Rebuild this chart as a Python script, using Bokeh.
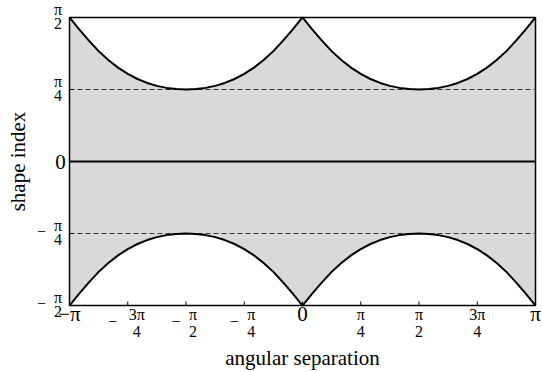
import numpy as np
from bokeh.plotting import figure
from bokeh.models import Range1d, Label
from bokeh.embed import file_html
from bokeh.resources import INLINE

# ---- data ----
x_deg = [-180, -172.5, -165, -157.5, -150, -142.5, -135, -127.5, -120, -112.5, -105, -97.5,
         -90, -82.5, -75, -67.5, -60, -52.5, -45, -37.5, -30, -22.5, -15, -7.5,
         0, 7.5, 15, 22.5, 30, 37.5, 45, 52.5, 60, 67.5, 75, 82.5,
         90, 97.5, 105, 112.5, 120, 127.5, 135, 142.5, 150, 157.5, 165, 172.5, 180]
upper = [1.571, 1.441, 1.318, 1.204, 1.107, 1.024, 0.955, 0.900, 0.857, 0.825, 0.803, 0.790,
         0.785, 0.790, 0.803, 0.825, 0.857, 0.900, 0.955, 1.024, 1.107, 1.204, 1.318, 1.441,
         1.571, 1.441, 1.318, 1.204, 1.107, 1.024, 0.955, 0.900, 0.857, 0.825, 0.803, 0.790,
         0.785, 0.790, 0.803, 0.825, 0.857, 0.900, 0.955, 1.024, 1.107, 1.204, 1.318, 1.441, 1.571]
lower = [-1.571, -1.441, -1.318, -1.204, -1.107, -1.024, -0.955, -0.900, -0.857, -0.825, -0.803, -0.790,
         -0.785, -0.790, -0.803, -0.825, -0.857, -0.900, -0.955, -1.024, -1.107, -1.204, -1.318, -1.441,
         -1.571, -1.441, -1.318, -1.204, -1.107, -1.024, -0.955, -0.900, -0.857, -0.825, -0.803, -0.790,
         -0.785, -0.790, -0.803, -0.825, -0.857, -0.900, -0.955, -1.024, -1.107, -1.204, -1.318, -1.441, -1.571]
dashed_levels = [np.pi / 4, -np.pi / 4]
zero_level = 0.0

x_min, x_max = -np.pi, np.pi
y_min, y_max = -np.pi / 2, np.pi / 2

# tick values and label parts: (sign, numerator, denominator); empty denominator => plain label
x_ticks = [-np.pi, -3 * np.pi / 4, -np.pi / 2, -np.pi / 4, 0, np.pi / 4, np.pi / 2, 3 * np.pi / 4, np.pi]
x_tick_sign = ["", "−", "−", "−", "", "", "", "", ""]
x_tick_num = ["−π", "3π", "π", "π", "0", "π", "π", "3π", "π"]
x_tick_den = ["", "4", "2", "4", "", "4", "2", "4", ""]
y_ticks = [-np.pi / 2, -np.pi / 4, 0, np.pi / 4, np.pi / 2]
y_tick_sign = ["−", "−", "", "", ""]
y_tick_num = ["π", "π", "0", "π", "π"]
y_tick_den = ["2", "4", "", "4", "2"]
x_label = "angular separation"
y_label = "shape index"

x = np.radians(x_deg)

# ---- layout (pixels) ----
W, H = 542, 371
L, R, T, B = 69, 535, 17, 305          # plot box edges on the canvas
sx = (R - L) / (x_max - x_min)          # px per data unit
sy = (B - T) / (y_max - y_min)

FONT = "Liberation Serif"
BIG = "21px"
SMALL = "16px"

p = figure(width=W, height=H, output_backend="svg", toolbar_location=None,
           x_range=Range1d(x_min - L / sx, x_max + (W - R) / sx),
           y_range=Range1d(y_min - (H - B) / sy, y_max + T / sy),
           min_border=0)
p.axis.visible = False
p.grid.visible = False
p.outline_line_color = None
p.background_fill_color = "white"
p.border_fill_color = "white"

# shaded region and curves
p.varea(x=x, y1=lower, y2=upper, fill_color="#d9d9d9")
p.segment(x0=[x_min] * len(dashed_levels), y0=dashed_levels, x1=[x_max] * len(dashed_levels),
          y1=dashed_levels, line_color="#3a3a3a", line_width=1, line_dash="5 3")
p.segment(x0=[x_min], y0=[zero_level], x1=[x_max], y1=[zero_level], line_color="black", line_width=2)
p.line(x, upper, line_color="black", line_width=2)
p.line(x, lower, line_color="black", line_width=2)

# ticks (pointing inward)
tick = 4
p.segment(x0=x_ticks, y0=[y_min] * len(x_ticks), x1=x_ticks, y1=[y_min + tick / sy] * len(x_ticks),
          line_color="black", line_width=1)
p.segment(x0=[x_min] * len(y_ticks), y0=y_ticks, x1=[x_min + tick / sx] * len(y_ticks), y1=y_ticks,
          line_color="black", line_width=1)

# plot box
p.quad(left=[x_min], right=[x_max], bottom=[y_min], top=[y_max], fill_color=None,
       line_color="black", line_width=1.5)

def lab(**kw):
    base = dict(text_font=FONT, text_color="black", text_align="center", text_baseline="middle")
    base.update(kw)
    p.add_layout(Label(**base))

# x tick labels
for t, s, n, d in zip(x_ticks, x_tick_sign, x_tick_num, x_tick_den):
    if d == "":
        lab(x=t, y=y_min, y_offset=-8, text=n, text_font_size=BIG)
    else:
        extra = len(n) - 1
        fx = (7 + 2 * extra) if s else 0
        if s:
            lab(x=t, y=y_min, x_offset=-10 - 5 * extra, y_offset=-16, text=s, text_font_size=SMALL)
        lab(x=t, y=y_min, x_offset=fx, y_offset=-9, text=n, text_font_size=SMALL)
        lab(x=t, y=y_min, x_offset=fx, y_offset=-26, text=d, text_font_size=SMALL)
# y tick labels
for t, s, n, d in zip(y_ticks, y_tick_sign, y_tick_num, y_tick_den):
    if d == "":
        lab(x=x_min, y=t, x_offset=-9, text=n, text_font_size=BIG)
    else:
        if s:
            lab(x=x_min, y=t, x_offset=-28, y_offset=2, text=s, text_font_size=SMALL)
        lab(x=x_min, y=t, x_offset=-11.5, y_offset=8, text=n, text_font_size=SMALL)
        lab(x=x_min, y=t, x_offset=-11.5, y_offset=-6, text=d, text_font_size=SMALL)

lab(x=0, y=y_min, y_offset=-52, text=x_label, text_font_size=BIG, text_baseline="alphabetic")
lab(x=x_min, y=0, x_offset=-52, text=y_label, text_font_size=BIG, text_baseline="alphabetic",
    angle=np.pi / 2)

open("out.html", "w").write(file_html(p, INLINE))
